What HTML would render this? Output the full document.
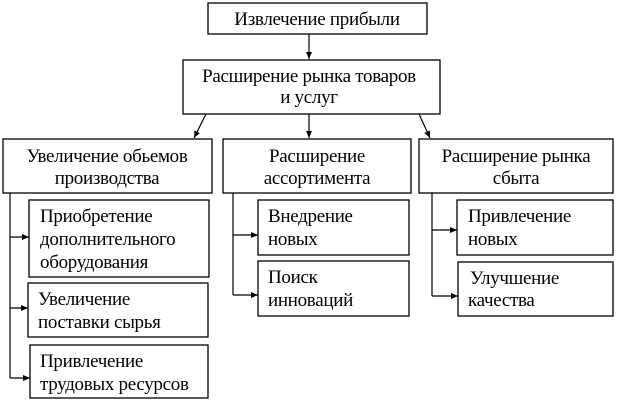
<!DOCTYPE html>
<html><head><meta charset="utf-8"><style>
body{margin:0;background:#fff;}
svg text{font-family:"Liberation Serif","Noto Serif CJK SC",serif;font-size:19px;fill:#000;letter-spacing:-0.3px;}
</style></head><body>
<svg width="618" height="401" viewBox="0 0 618 401" xmlns="http://www.w3.org/2000/svg">
<defs><marker id="a" markerWidth="8" markerHeight="8" refX="7" refY="4" orient="auto" markerUnits="userSpaceOnUse"><path d="M0,1 L7,4 L0,7 z" fill="#000"/></marker></defs>
<g fill="#fff" stroke="#000" stroke-width="1.3">
<rect x="208" y="3" width="219" height="31"/>
<rect x="183" y="60" width="257" height="54"/>
<rect x="3" y="139" width="209" height="54"/>
<rect x="223" y="139" width="188" height="54"/>
<rect x="419" y="139" width="194" height="54"/>
<rect x="29" y="200" width="180" height="77"/>
<rect x="28" y="283" width="180" height="54"/>
<rect x="30" y="345" width="178" height="53"/>
<rect x="258" y="200" width="151" height="55"/>
<rect x="258" y="261" width="151" height="55"/>
<rect x="457" y="200" width="156" height="55"/>
<rect x="458" y="262" width="155" height="54"/>
</g>
<g stroke="#000" stroke-width="1.2" fill="none">
<line x1="309" y1="34" x2="309" y2="59" marker-end="url(#a)"/>
<line x1="206" y1="114" x2="194" y2="138" marker-end="url(#a)"/>
<line x1="309" y1="114" x2="309" y2="138" marker-end="url(#a)"/>
<line x1="419" y1="114" x2="430" y2="138" marker-end="url(#a)"/>
<polyline points="10,193 10,378"/>
<line x1="10" y1="237" x2="29" y2="237" marker-end="url(#a)"/>
<line x1="10" y1="308" x2="28" y2="308" marker-end="url(#a)"/>
<line x1="10" y1="378" x2="30" y2="378" marker-end="url(#a)"/>
<polyline points="233,193 233,295"/>
<line x1="233" y1="235" x2="258" y2="235" marker-end="url(#a)"/>
<line x1="233" y1="295" x2="258" y2="295" marker-end="url(#a)"/>
<polyline points="432,193 432,296"/>
<line x1="432" y1="230" x2="457" y2="230" marker-end="url(#a)"/>
<line x1="432" y1="296" x2="458" y2="296" marker-end="url(#a)"/>
</g>
<g text-anchor="middle">
<text x="317" y="25">Извлечение прибыли</text>
<text x="309" y="82">Расширение рынка товаров</text>
<text x="309" y="103">и услуг</text>
<text x="107" y="162">Увеличение обьемов</text>
<text x="107" y="184">производства</text>
<text x="317" y="162">Расширение</text>
<text x="317" y="184">ассортимента</text>
<text x="516" y="162">Расширение рынка</text>
<text x="516" y="184">сбыта</text>
</g>
<g>
<text x="40" y="222">Приобретение</text>
<text x="40" y="245">дополнительного</text>
<text x="40" y="268">оборудования</text>
<text x="38" y="305">Увеличение</text>
<text x="38" y="328">поставки сырья</text>
<text x="40" y="367">Привлечение</text>
<text x="40" y="390">трудовых ресурсов</text>
<text x="268" y="222">Внедрение</text>
<text x="268" y="245">новых</text>
<text x="268" y="283">Поиск</text>
<text x="268" y="306">инноваций</text>
<text x="468" y="222">Привлечение</text>
<text x="468" y="245">новых</text>
<text x="470" y="284">Улучшение</text>
<text x="468" y="306">качества</text>
</g>
</svg>
</body></html>
